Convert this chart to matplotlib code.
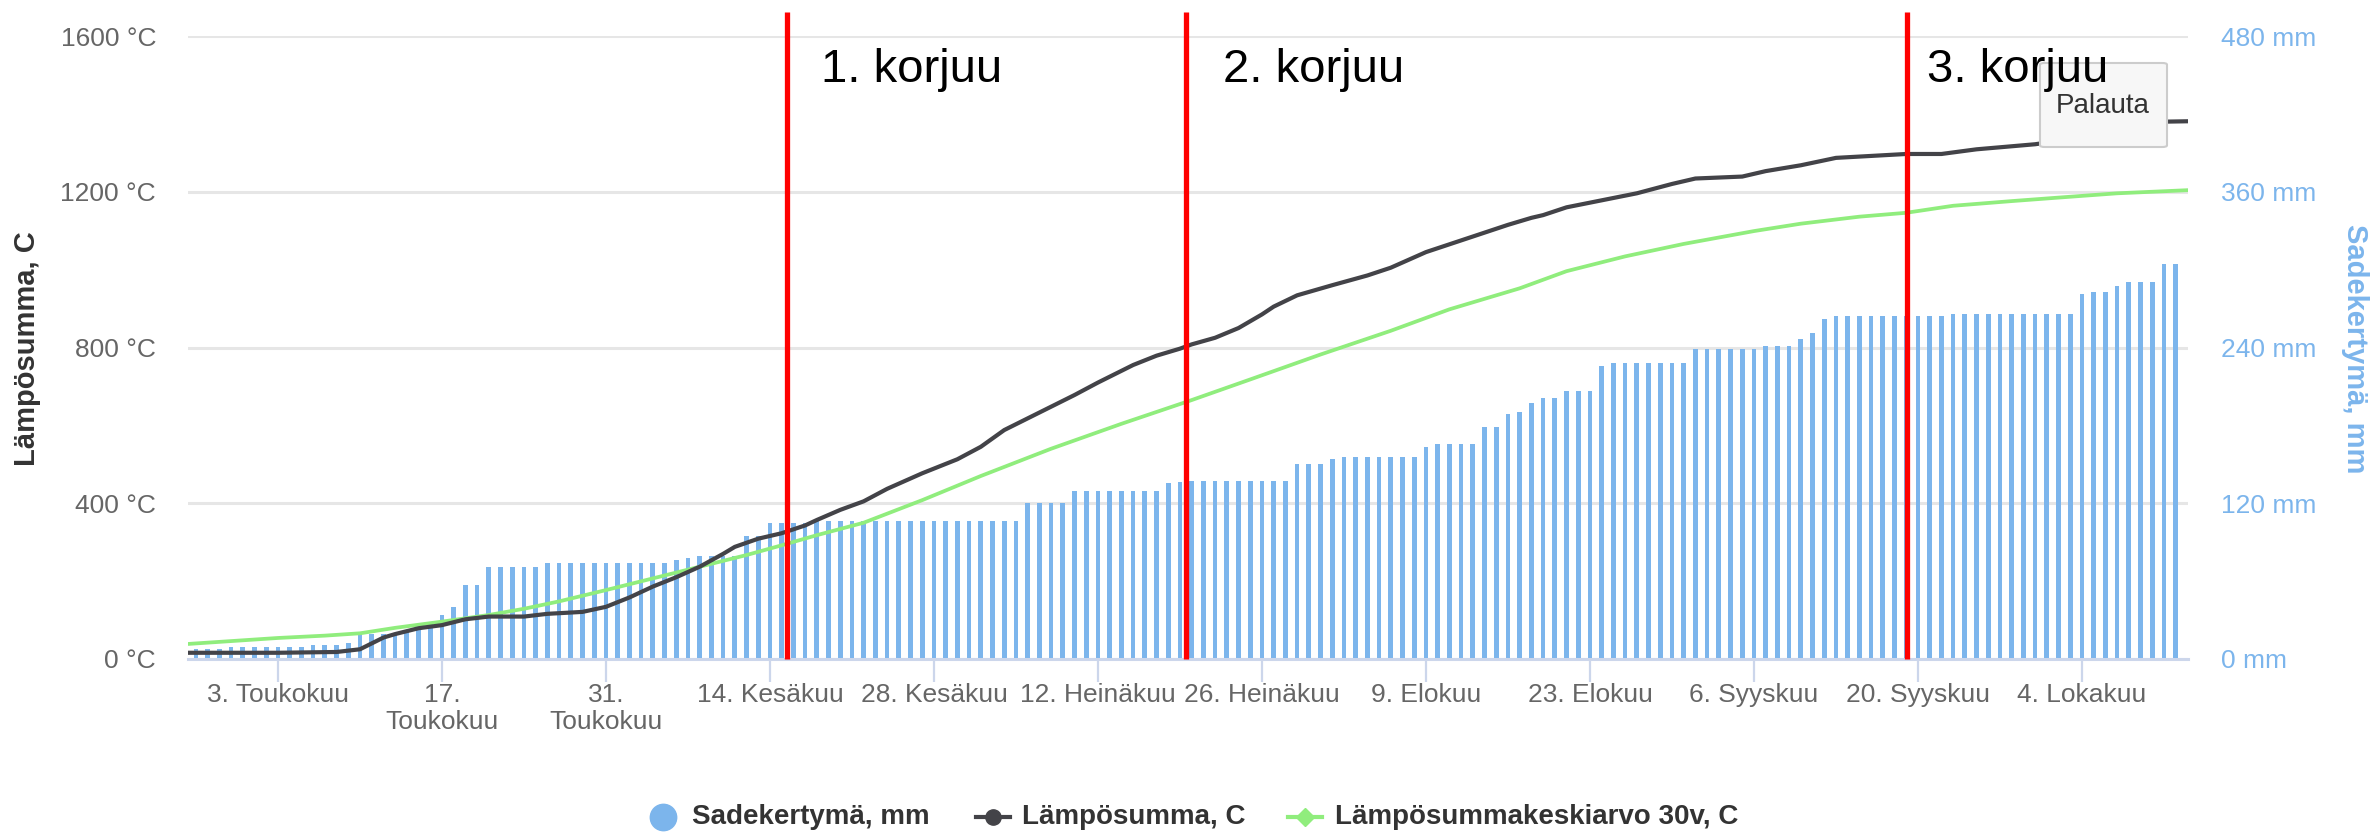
import matplotlib
matplotlib.use("Agg")
import matplotlib.pyplot as plt
from matplotlib.patches import FancyBboxPatch
from matplotlib.lines import Line2D
import numpy as np

plt.rcParams['font.family'] = ['Liberation Sans', 'DejaVu Sans']

# päivät lasketaan 3.5. alkaen (0 = 3. toukokuuta)
sade_alku = -7
# sadekertymä, mm (yksi pylväs / päivä, 26.4. - 13.10.)
sade = [8, 8, 8, 9, 9, 9, 9, 9, 9, 9, 10.5, 10.5, 10.5, 12.5,
        19, 19, 19, 20, 22, 23, 27, 34, 40, 57, 57,
        70.5, 70.5, 70.5, 70.5, 70.5,
        74.2, 74.2, 74.2, 74.2, 74.2, 74.2, 74.2, 74.2, 74.2, 74.2, 74.2,
        76, 78, 79.5, 79.5, 79.5, 79.5, 95, 95, 104.5, 104.5, 104.5, 104.5,
        106.6, 106.6, 106.6, 106.6, 106.6, 106.6, 106.6, 106.6, 106.6,
        106.6, 106.6, 106.6, 106.6, 106.6, 106.6, 106.6, 106.6, 106.6,
        120, 120, 120, 120,
        129.7, 129.7, 129.7, 129.7, 129.7, 129.7, 129.7, 129.7, 135.4, 136,
        137, 137, 137, 137, 137, 137, 137, 137, 137,
        150.5, 150.5, 150.5, 154,
        155.6, 155.6, 155.6, 155.6, 155.6, 155.6, 155.6,
        163, 166, 166, 166, 166, 178.5, 178.5, 188.4, 190.3, 197.6, 201, 201,
        206.6, 206.6, 206.6, 225.6,
        228.4, 228.4, 228.4, 228.4, 228.4, 228.4, 228.4,
        239.1, 239.1, 239.1, 239.1, 239.1, 239.1, 240.8, 240.8, 240.8,
        246.6, 250.8, 262,
        264.3, 264.3, 264.3, 264.3, 264.3, 264.3, 264.3, 264.3, 264.3, 264.3,
        266, 266, 266, 266, 266, 266, 266, 266, 266, 266, 266,
        281, 283, 283, 287, 290.6, 290.6, 290.6, 304, 304]

# lämpösumma, C
lampo_paivat = [-8, 0, 5, 7, 8, 9, 10, 12, 14, 16, 18, 21, 23, 26, 28, 30, 32, 34, 36,
                38, 39, 41, 43, 45, 46, 48, 50, 52, 55, 58, 60, 62, 65, 68, 70, 73, 75,
                77, 78, 80, 82, 84, 85, 87, 90, 93, 95, 98, 102, 105, 107, 108, 110,
                113, 116, 119, 121, 125, 127, 130, 133, 136, 139, 142, 145, 150, 153,
                156, 159, 161, 163]
lampo = [16, 16, 18, 25, 40, 55, 64, 79, 87, 102, 109, 109, 116, 121, 134, 158, 186, 210, 237,
         270, 288, 309, 323, 343, 357, 383, 405, 437, 477, 513, 545, 588, 633, 678, 710, 755, 779,
         797, 808, 825, 850, 885, 905, 934, 960, 985, 1005, 1045, 1085, 1115, 1133, 1140, 1160,
         1178, 1196, 1220, 1234, 1239, 1253, 1268, 1287, 1292, 1297, 1297, 1309, 1322, 1335,
         1352, 1370, 1380, 1381]

# lämpösummakeskiarvo 30v, C
keski_paivat = [-8, -4, 0, 4, 7, 10, 14, 18, 21, 24, 28, 32, 36, 40, 43, 46, 50, 55, 60, 66,
                72, 78, 83, 89, 95, 100, 106, 110, 115, 120, 126, 130, 135, 139, 143, 148,
                152, 157, 163]
keski = [38, 46, 54, 60, 66, 80, 96, 113, 129, 148, 177, 207, 237, 267, 292, 318, 350, 408, 470, 540,
         604, 665, 718, 782, 843, 898, 952, 996, 1034, 1066, 1099, 1118, 1136, 1146, 1164, 1176,
         1185, 1196, 1204]

tick_paivat = [0, 14, 28, 42, 56, 70, 84, 98, 112, 126, 140, 154]
tick_tekstit = ["3. Toukokuu", "17.\nToukokuu", "31.\nToukokuu", "14. Kesäkuu", "28. Kesäkuu",
                "12. Heinäkuu", "26. Heinäkuu", "9. Elokuu", "23. Elokuu", "6. Syyskuu",
                "20. Syyskuu", "4. Lokakuu"]

korjuu_paivat = [43.45, 77.5, 139.07]
korjuu_tekstit = ["1. korjuu", "2. korjuu", "3. korjuu"]
korjuu_teksti_x = [46.35, 80.67, 140.77]

W, H = 2374, 834
fig = plt.figure(figsize=(W / 100, H / 100), dpi=100)
ax = fig.add_axes([188 / W, 1 - 659 / H, 2000 / W, 623 / H])
ax2 = ax.twinx()
ax.set_zorder(2)
ax.patch.set_visible(False)

x_sade = np.arange(sade_alku, sade_alku + len(sade))
ax2.bar(x_sade, sade, width=0.4, color='#7cb5ec', zorder=2)
ax2.set_ylim(0, 480)
ax2.set_yticks([0, 120, 240, 360, 480], [f"{v} mm" for v in [0, 120, 240, 360, 480]])
ax2.yaxis.grid(True, color='#e6e6e6', lw=2.2)
ax2.set_axisbelow(True)
ax2.tick_params(axis='y', length=0, pad=24, labelsize=19, labelcolor='#7cb5ec')

ax.plot(keski_paivat, keski, color='#90ed7d', lw=2.7, zorder=3)
ax.plot(lampo_paivat, lampo, color='#434348', lw=3.0, zorder=4)
ax.set_xlim(-7.68, 163.05)
ax.set_ylim(0, 1600)
ax.set_yticks([0, 400, 800, 1200, 1600], [f"{v} °C" for v in [0, 400, 800, 1200, 1600]])
ax.tick_params(axis='y', length=0, pad=23, labelsize=19, labelcolor='#666666')
ax.set_xticks(tick_paivat, tick_tekstit)
ax.tick_params(axis='x', length=16.5, width=1.6, color='#ccd6eb', pad=1,
               labelsize=19, labelcolor='#666666')
for lbl in ax.get_xticklabels():
    lbl.set_linespacing(1.15)

for a in (ax, ax2):
    for s in a.spines.values():
        s.set_visible(False)
ax.spines['bottom'].set_visible(True)
ax.spines['bottom'].set_color('#ccd6eb')
ax.spines['bottom'].set_linewidth(2.2)

# korjuuviivat
ax.vlines(korjuu_paivat, 0, 1661, color='#ff0000', lw=3.8, zorder=6, clip_on=False)

# Palauta-painike
nappi = FancyBboxPatch((2040 / W, 1 - 147 / H), 127 / W, 84 / H,
                       boxstyle="round,pad=0,rounding_size=0.002",
                       transform=fig.transFigure, facecolor='#f7f7f7',
                       edgecolor='#cccccc', lw=1.5, zorder=10, clip_on=False)
ax.add_patch(nappi)
ax.text(2103 / W, 1 - 106 / H, "Palauta", transform=fig.transFigure, fontsize=20,
        color='#333333', ha='center', va='center', zorder=11)

# korjuutekstit painikkeen päälle
for x, t in zip(korjuu_teksti_x, korjuu_tekstit):
    ax.text(x, 1482, t, fontsize=34, color='black', va='baseline', zorder=12)

# akselien otsikot
fig.text(27 / W, 1 - 349 / H, "Lämpösumma, C", rotation=90, fontsize=21, fontweight='bold',
         color='#333333', ha='center', va='center')
fig.text(2355 / W, 1 - 349 / H, "Sadekertymä, mm", rotation=270, fontsize=21,
         fontweight='bold', color='#7cb5ec', ha='center', va='center')

# selite
ly = 1 - 817 / H
fig.add_artist(Line2D([663 / W], [ly], marker='o', ms=19, color='#7cb5ec', lw=0,
                      transform=fig.transFigure))
fig.text(692 / W, ly, "Sadekertymä, mm", fontsize=20, fontweight='bold', color='#333333',
         va='center')
fig.add_artist(Line2D([976 / W, 1010 / W], [ly, ly], color='#434348', lw=3,
                      transform=fig.transFigure))
fig.add_artist(Line2D([993 / W], [ly], marker='o', ms=11, color='#434348', lw=0,
                      transform=fig.transFigure))
fig.text(1022 / W, ly, "Lämpösumma, C", fontsize=20, fontweight='bold', color='#333333',
         va='center')
fig.add_artist(Line2D([1288 / W, 1322 / W], [ly, ly], color='#90ed7d', lw=3,
                      transform=fig.transFigure))
fig.add_artist(Line2D([1305 / W], [ly], marker='D', ms=9, color='#90ed7d', lw=0,
                      transform=fig.transFigure))
fig.text(1335 / W, ly, "Lämpösummakeskiarvo 30v, C", fontsize=20, fontweight='bold',
         color='#333333', va='center')

fig.savefig("out.png", dpi=100, facecolor='white')
